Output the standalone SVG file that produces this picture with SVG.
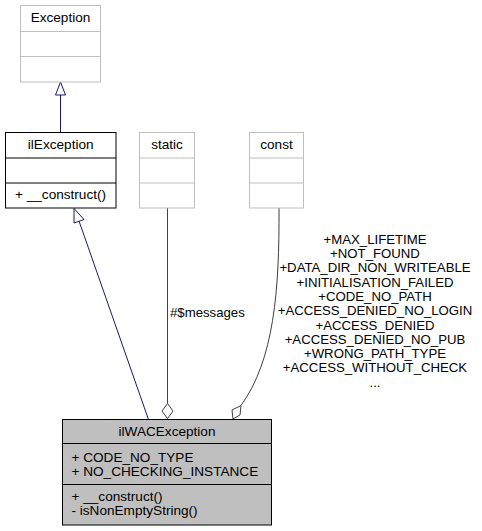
<svg xmlns="http://www.w3.org/2000/svg" width="482" height="531" viewBox="0 0 482 531">
<style>
text{font-family:"Liberation Sans",Arial,sans-serif;font-size:13.2px;fill:#000}
.n{font-size:13.6px}
.c{text-anchor:middle}
.gray{fill:#fff;stroke:#bfbfbf;stroke-width:1}
.blk{fill:#fff;stroke:#000;stroke-width:1}
.cur{fill:#bfbfbf;stroke:#000;stroke-width:1}
.inh{fill:none;stroke:#191970;stroke-width:1}
.agg{fill:none;stroke:#404040;stroke-width:1}
</style>
<rect width="482" height="531" fill="#fff"/>
<g id="connectors">
<path class="inh" d="M60.5,95 L60.5,132.5"/>
<polygon class="inh" points="60.5,82 55.5,95 65.5,95" style="fill:#fff"/>
<path class="inh" d="M79,221 L148.3,419"/>
<polygon class="inh" points="74,208.5 74,223 84,219.5" style="fill:#fff"/>
<path class="agg" d="M167.5,208 L167.5,403.5"/>
<polygon class="agg" points="167.5,403.5 173,411 167.5,418.5 162,411" style="fill:#fff"/>
<path class="agg" d="M279,208 C279.5,290 274,360 241,405.5"/>
<polygon class="agg" points="241,405.5 240,415 233,419 232,410" style="fill:#fff"/>
<text x="170" y="317">#$messages</text>
<text class="c" x="375" y="243.7">+MAX_LIFETIME</text>
<text class="c" x="375" y="258">+NOT_FOUND</text>
<text class="c" x="375" y="272.3">+DATA_DIR_NON_WRITEABLE</text>
<text class="c" x="375" y="286.6">+INITIALISATION_FAILED</text>
<text class="c" x="375" y="300.9">+CODE_NO_PATH</text>
<text class="c" x="375" y="315.2">+ACCESS_DENIED_NO_LOGIN</text>
<text class="c" x="375" y="329.5">+ACCESS_DENIED</text>
<text class="c" x="375" y="343.8">+ACCESS_DENIED_NO_PUB</text>
<text class="c" x="375" y="358.1">+WRONG_PATH_TYPE</text>
<text class="c" x="375" y="372.4">+ACCESS_WITHOUT_CHECK</text>
<text class="c" x="375" y="386.7">...</text>
</g>
<g id="Exception">
<rect class="gray" x="20.5" y="5.5" width="80" height="76.5"/>
<line class="gray" x1="20.5" y1="31.5" x2="100.5" y2="31.5"/>
<line class="gray" x1="20.5" y1="56.5" x2="100.5" y2="56.5"/>
<text class="c n" x="60.5" y="22">Exception</text>
</g>
<g id="ilException">
<rect class="blk" x="5.5" y="132.5" width="110.5" height="75.5"/>
<line class="blk" x1="5.5" y1="158" x2="116" y2="158"/>
<line class="blk" x1="5.5" y1="183" x2="116" y2="183"/>
<text class="c n" x="60.7" y="149">ilException</text>
<text class="n" x="15" y="199">+ __construct()</text>
</g>
<g id="static">
<rect class="gray" x="139.5" y="132.5" width="55" height="75.5"/>
<line class="gray" x1="139.5" y1="158" x2="194.5" y2="158"/>
<line class="gray" x1="139.5" y1="183" x2="194.5" y2="183"/>
<text class="c n" x="167" y="149">static</text>
</g>
<g id="const">
<rect class="gray" x="249.5" y="132.5" width="54" height="75.5"/>
<line class="gray" x1="249.5" y1="158" x2="303.5" y2="158"/>
<line class="gray" x1="249.5" y1="183" x2="303.5" y2="183"/>
<text class="c n" x="276.5" y="149">const</text>
</g>
<g id="ilWACException">
<rect class="cur" x="62.5" y="419.5" width="209" height="105.5"/>
<line class="cur" x1="62.5" y1="443.5" x2="271.5" y2="443.5"/>
<line class="cur" x1="62.5" y1="484.5" x2="271.5" y2="484.5"/>
<text class="c n" x="167" y="435.5">ilWACException</text>
<text class="n" x="71.5" y="461.5">+ CODE_NO_TYPE</text>
<text class="n" x="71.5" y="476">+ NO_CHECKING_INSTANCE</text>
<text class="n" x="71.5" y="500.5">+ __construct()</text>
<text class="n" x="71.5" y="515">- isNonEmptyString()</text>
</g>
</svg>
